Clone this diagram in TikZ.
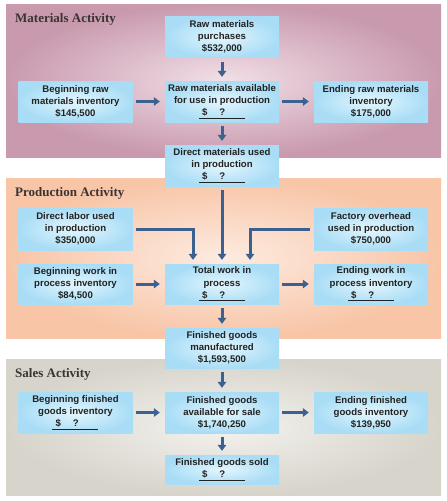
\documentclass[tikz,border=0pt]{standalone}
\usepackage{fontspec}
\setmainfont{Liberation Sans}
\newfontfamily\titlefont{Liberation Serif}
\usetikzlibrary{arrows.meta,shadings}
\definecolor{matout}{HTML}{C99AAE}
\definecolor{matin}{HTML}{F1DFE7}
\definecolor{proout}{HTML}{F8C5A7}
\definecolor{proin}{HTML}{FDEBE0}
\definecolor{salout}{HTML}{D7D4CB}
\definecolor{salin}{HTML}{F4F2EF}
\definecolor{boxout}{HTML}{A9DDF6}
\definecolor{boxin}{HTML}{E4F6FD}
\definecolor{arrcol}{HTML}{3A6190}
\definecolor{txtcol}{HTML}{222222}
\definecolor{ttlcol}{HTML}{3A3434}
\newcommand{\qmark}{\underline{\makebox[46pt][l]{\hspace{3pt}\$\hspace{12pt}?}}}
\begin{document}
\begin{tikzpicture}[x=1pt,y=-1pt,
  box/.style={shading=radial,inner color=boxin,outer color=boxout,
    minimum width=114pt,minimum height=41pt,inner sep=0pt,align=center,
    text=txtcol,font=\fontsize{9.6}{12.2}\selectfont\bfseries},
  arr/.style={draw=arrcol,line width=3pt,-{Triangle[width=8.5pt,length=6pt]}},
  ttl/.style={anchor=base west,text=ttlcol,font=\titlefont\fontsize{13}{15}\selectfont\bfseries,inner sep=0pt}]
\useasboundingbox (0,0) rectangle (447,501);
\fill[white] (0,0) rectangle (447,501);
% panels
\shade[inner color=matin,outer color=matout] (6,4) rectangle (441,157);
\shade[inner color=proin,outer color=proout] (6,178) rectangle (441,338);
\shade[inner color=salin,outer color=salout] (6,359) rectangle (441,495);
\node[ttl] (t1) at (15,22) {Materials Activity};
\node[ttl] (t2) at (15,196) {Production Activity};
\node[ttl] (t3) at (15,377) {Sales Activity};
% materials
\node[box] (rmp) at (222,37) {Raw materials\\purchases\\\$532,000};
\node[box] (brm) at (75.5,101.5) {Beginning raw\\materials inventory\\\$145,500};
\node[box] (rma) at (222,101.5) {Raw materials available\\for use in production\\\qmark};
\node[box] (erm) at (371,101.5) {Ending raw materials\\inventory\\\$175,000};
\node[box] (dmu) at (222,165.5) {Direct materials used\\in production\\\qmark};
% production
\node[box,minimum height=42pt] (dl) at (75.5,229) {Direct labor used\\in production\\\$350,000};
\node[box,minimum height=42pt] (fo) at (371,229) {Factory overhead\\used in production\\\$750,000};
\node[box,minimum height=40pt] (bwip) at (75.5,284) {Beginning work in\\process inventory\\\$84,500};
\node[box,minimum height=40pt] (twip) at (222,284) {Total work in\\process\\\qmark};
\node[box,minimum height=40pt] (ewip) at (371,284) {Ending work in\\process inventory\\\qmark};
\node[box,minimum height=40pt] (fgm) at (222,348) {Finished goods\\manufactured\\\$1,593,500};
% sales
\node[box] (bfg) at (75.5,412.5) {Beginning finished\\goods inventory\\\qmark};
\node[box] (fga) at (222,412.5) {Finished goods\\available for sale\\\$1,740,250};
\node[box] (efg) at (371,412.5) {Ending finished\\goods inventory\\\$139,950};
\node[box,minimum height=29pt] (fgs) at (222,469.5) {Finished goods sold\\\qmark};
% arrows
\draw[arr,shorten <=4pt,shorten >=4pt] (rmp) -- (rma);
\draw[arr,shorten <=3pt,shorten >=5pt] (brm) -- (rma);
\draw[arr,shorten <=3pt,shorten >=5pt] (rma) -- (erm);
\draw[arr,shorten <=4pt,shorten >=4pt] (rma) -- (dmu);
\draw[arr,shorten <=4pt,shorten >=4pt] (dmu) -- (twip);
\draw[arr,shorten <=3pt,shorten >=4pt] (dl.east) -| ([xshift=-29pt]twip.north);
\draw[arr,shorten <=4pt,shorten >=4pt] (fo.west) -| ([xshift=28pt]twip.north);
\draw[arr,shorten <=3pt,shorten >=5pt] (bwip) -- (twip);
\draw[arr,shorten <=3pt,shorten >=5pt] (twip) -- (ewip);
\draw[arr,shorten <=4pt,shorten >=4pt] (twip) -- (fgm);
\draw[arr,shorten <=4pt,shorten >=4pt] (fgm) -- (fga);
\draw[arr,shorten <=3pt,shorten >=5pt] (bfg) -- (fga);
\draw[arr,shorten <=3pt,shorten >=5pt] (fga) -- (efg);
\draw[arr,shorten <=4pt,shorten >=4pt] (fga) -- (fgs);
\end{tikzpicture}
\end{document}
